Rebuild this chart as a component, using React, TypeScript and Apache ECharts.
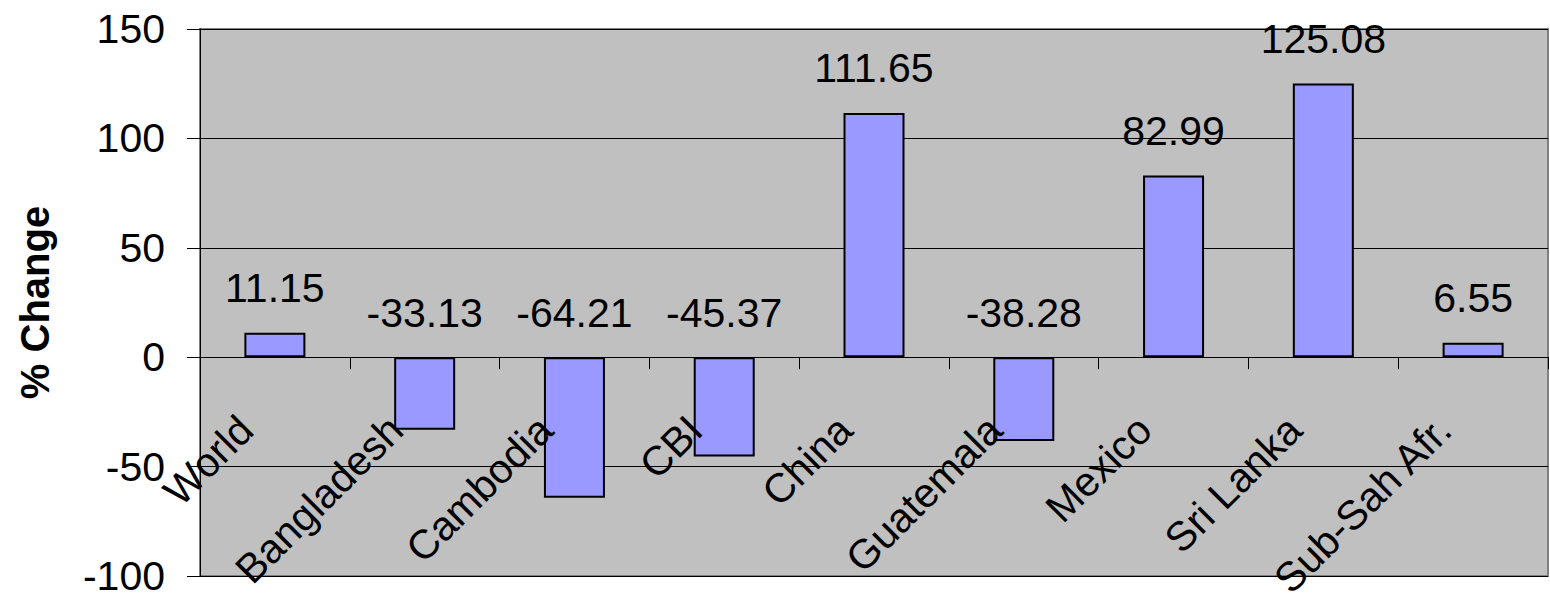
import React, { useEffect, useRef } from "react";
import * as echarts from "echarts";

const categories = ["World", "Bangladesh", "Cambodia", "CBI", "China", "Guatemala", "Mexico", "Sri Lanka", "Sub-Sah Afr."];
const changes = [11.15, -33.13, -64.21, -45.37, 111.65, -38.28, 82.99, 125.08, 6.55];
const yTicks = { min: -100, max: 150, interval: 50 };
const yTitle = "% Change";

const FONT = "'Liberation Sans', Arial, sans-serif";

export default function App() {
  const ref = useRef<HTMLDivElement>(null);
  useEffect(() => {
    if (!ref.current) return;
    const chart = echarts.init(ref.current, null, { renderer: "svg" });
    chart.setOption({
      animation: false,
      backgroundColor: "#ffffff",
      textStyle: { fontFamily: FONT },
      grid: {
        left: 200,
        right: 2,
        top: 29,
        bottom: 24,
        containLabel: false,
        outerBoundsMode: "none",
        show: true,
        backgroundColor: "#C0C0C0",
        borderColor: "#808080",
        borderWidth: 2,
      },
      xAxis: {
        type: "category",
        data: categories,
        z: 5,
        axisLine: { show: true, onZero: true, lineStyle: { color: "#000", width: 1 } },
        axisTick: { show: true, interval: 0, length: 12, lineStyle: { color: "#000", width: 1 } },
        axisLabel: {
          interval: 0,
          rotate: 45,
          margin: -182,
          padding: [0, 41, 0, 0],
          fontSize: 41,
          color: "#000",
          fontFamily: FONT,
          hideOverlap: false,
        },
        splitLine: { show: false },
      },
      yAxis: {
        type: "value",
        min: yTicks.min,
        max: yTicks.max,
        interval: yTicks.interval,
        name: yTitle,
        nameLocation: "middle",
        nameGap: 145,
        nameTextStyle: { fontSize: 40, fontWeight: "bold", color: "#000", fontFamily: FONT },
        axisLine: { show: true, lineStyle: { color: "#000", width: 1 } },
        axisTick: { show: true, length: 13, lineStyle: { color: "#000", width: 1 } },
        axisLabel: { fontSize: 41, color: "#000", margin: 35, fontFamily: FONT },
        splitLine: { show: true, lineStyle: { color: "#000", width: 1 } },
      },
      series: [
        {
          type: "bar",
          data: changes,
          barWidth: 61,
          itemStyle: { color: "#9999FF", borderColor: "#000", borderWidth: 2 },
          label: {
            show: true,
            position: "top",
            distance: 24,
            fontSize: 41,
            color: "#000",
            fontFamily: FONT,
            formatter: (p: any) => p.value.toFixed(2),
          },
        },
      ],
    });
    return () => chart.dispose();
  }, []);
  return <div ref={ref} style={{ position: "fixed", left: 0, top: 0, width: 1550, height: 600 }} />;
}
